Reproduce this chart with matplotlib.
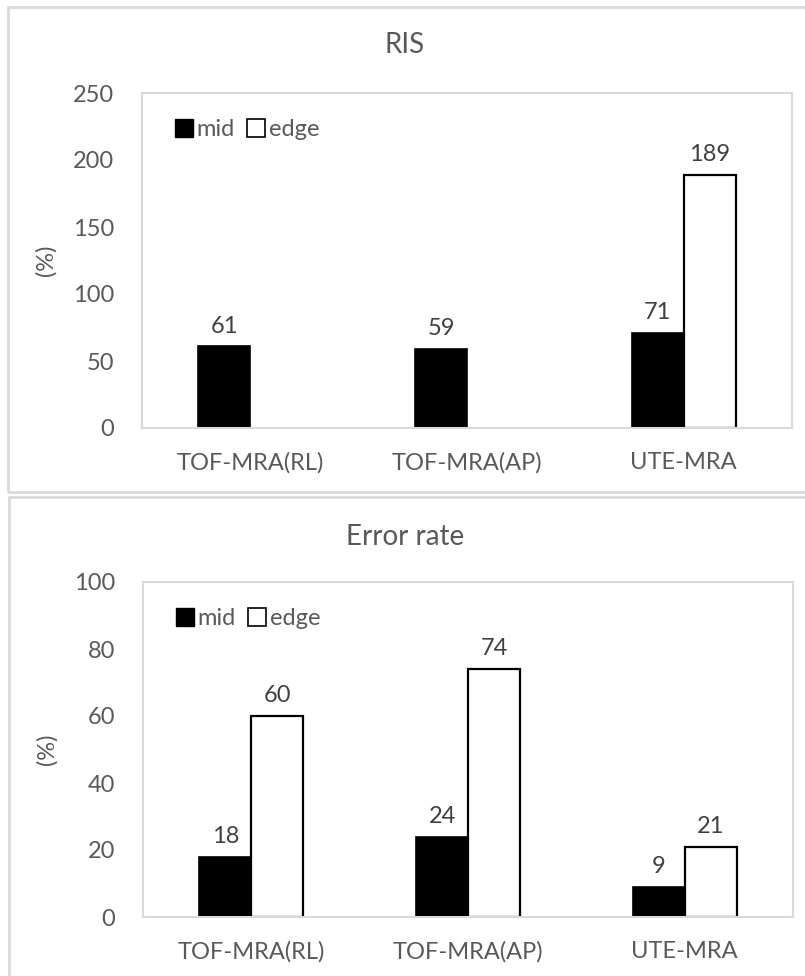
import matplotlib.pyplot as plt
from matplotlib.patches import Rectangle, Patch
import numpy as np

plt.rcParams['font.family'] = ['Lato', 'DejaVu Sans']

categories = ['TOF-MRA(RL)', 'TOF-MRA(AP)', 'UTE-MRA']
ris_mid = [61, 59, 71]
ris_edge = [np.nan, np.nan, 189]
err_mid = [18, 24, 9]
err_edge = [60, 74, 21]

W, H = 805, 976
fig = plt.figure(figsize=(W / 100, H / 100), dpi=100)
fig.patch.set_facecolor('white')

grey_txt = '#595959'
frame = '#d9d9d9'
fs = 17

# outer chart borders (pixel coords)
fig.add_artist(Rectangle((8 / W, 1 - 492 / H), 810 / W, 485 / H, transform=fig.transFigure,
                         fill=False, edgecolor=frame, lw=2))
fig.add_artist(Rectangle((9 / W, 1 - 990 / H), 810 / W, 493 / H, transform=fig.transFigure,
                         fill=False, edgecolor=frame, lw=2))


def panel(rect, mid, edge, ymax, step, title, title_y):
    l, t, r, b = rect
    ax = fig.add_axes([l / W, 1 - b / H, (r - l) / W, (b - t) / H])
    x = np.arange(len(categories))
    w = 0.24
    ax.bar(x - w / 2, mid, w, color='black', edgecolor='black', lw=1.2)
    ax.bar(x + w / 2, edge, w, color='white', edgecolor='black', lw=1.6)
    for xi, v in zip(x - w / 2, mid):
        ax.annotate(f'{v:g}', (xi, v), xytext=(0, 7), textcoords='offset points',
                    ha='center', va='bottom', fontsize=fs, color='#404040')
    for xi, v in zip(x + w / 2, edge):
        if not np.isnan(v):
            ax.annotate(f'{v:g}', (xi, v), xytext=(0, 7), textcoords='offset points',
                        ha='center', va='bottom', fontsize=fs, color='#404040')
    ax.set_xlim(-0.5, len(categories) - 0.5)
    ax.set_ylim(0, ymax)
    ax.set_yticks(np.arange(0, ymax + 1, step))
    ax.set_xticks(x)
    ax.set_xticklabels(categories)
    ax.tick_params(axis='both', length=0, labelsize=fs, colors=grey_txt)
    ax.tick_params(axis='x', pad=17)
    ax.tick_params(axis='y', pad=20)
    for s in ax.spines.values():
        s.set_color(frame)
        s.set_linewidth(1.5)
    ax.set_ylabel('(%)', fontsize=fs, color=grey_txt, labelpad=12)
    fig.text(0.503, 1 - title_y / H, title, ha='center', va='center', fontsize=20, color=grey_txt)
    handles = [Patch(facecolor='black', edgecolor='black'),
               Patch(facecolor='white', edgecolor='black', lw=1.2)]
    ax.legend(handles, ['mid', 'edge'], loc='upper left', bbox_to_anchor=(0.018, 0.985), ncol=2,
              frameon=False, fontsize=fs, labelcolor=grey_txt, handlelength=0.75, handleheight=0.75,
              handletextpad=0.15, columnspacing=0.55)
    return ax


panel((142, 93, 792, 428), ris_mid, ris_edge, 250, 50, 'RIS', 45)
panel((143, 582, 793, 917), err_mid, err_edge, 100, 20, 'Error rate', 537)

fig.savefig('out.png', dpi=100)
